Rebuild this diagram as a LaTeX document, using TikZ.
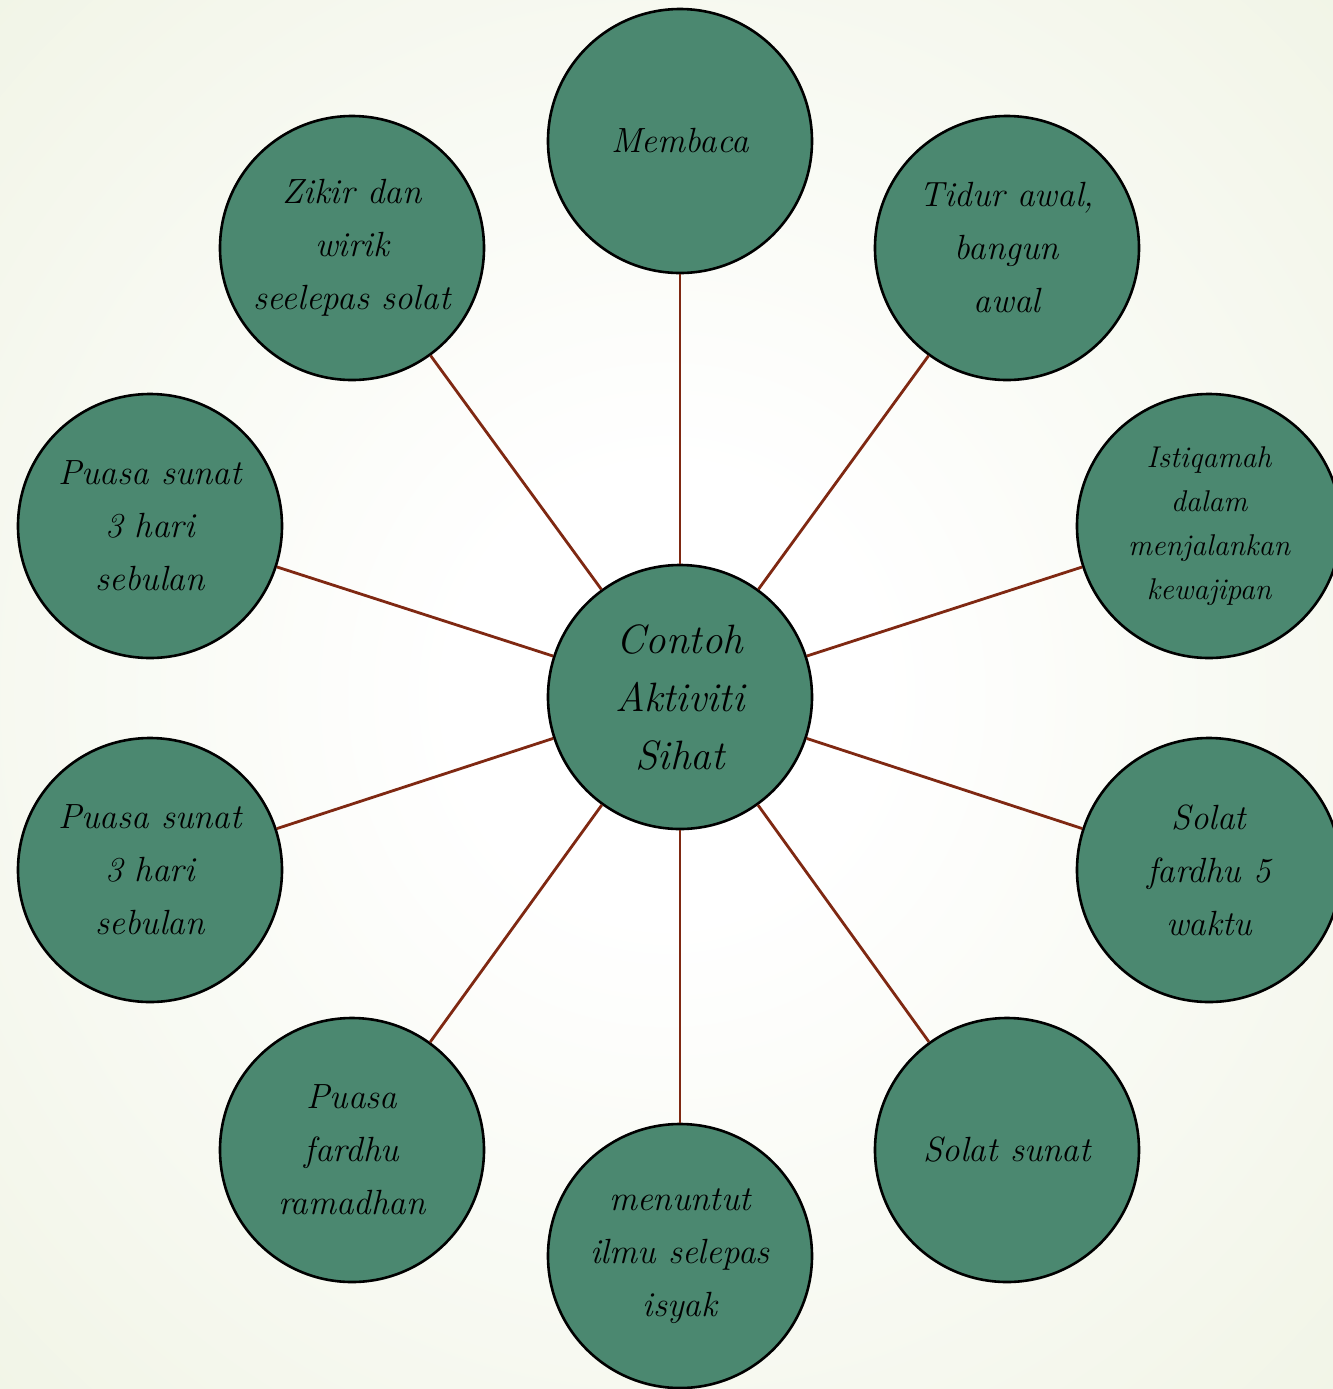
\documentclass[tikz,border=0pt]{standalone}
\usetikzlibrary{positioning}
\definecolor{bgout}{HTML}{E6ECD3}
\definecolor{circfill}{HTML}{4B8870}
\definecolor{linkcol}{HTML}{7F2812}
\pgfdeclareradialshading{bgshade}{\pgfpoint{0bp}{0bp}}{color(0bp)=(white); color(8bp)=(white); color(58bp)=(bgout); color(72bp)=(bgout)}
\tikzset{
  bubble/.style={circle, draw=black, line width=1.3pt, fill=circfill, minimum size=132pt, inner sep=0pt, align=center, font=\fontsize{17.5}{26.5}\selectfont\itshape},
  hub/.style={bubble, font=\fontsize{20.5}{29}\selectfont\itshape},
  smalltext/.style={font=\fontsize{15}{22}\selectfont\itshape},
  link/.style={draw=linkcol, line width=1.4pt}
}
\begin{document}
\begin{tikzpicture}[x=0.5pt,y=-0.5pt]
\useasboundingbox (0,0) rectangle (1333,1389);
\shade[shading=bgshade] (0,0) rectangle (1333,1389);
\node[hub] (c) at (680,697) {Contoh\\Aktiviti\\Sihat};
\node[bubble] (n1) at (680,141) {Membaca};
\node[bubble] (n2) at (1007,248) {Tidur awal,\\bangun\\awal};
\node[bubble,smalltext] (n3) at (1209,526) {Istiqamah\\dalam\\menjalankan\\kewajipan};
\node[bubble] (n4) at (1209,870) {Solat\\fardhu 5\\waktu};
\node[bubble] (n5) at (1007,1150) {Solat sunat};
\node[bubble] (n6) at (680,1256) {menuntut\\ilmu selepas\\isyak};
\node[bubble] (n7) at (352,1150) {Puasa\\fardhu\\ramadhan};
\node[bubble] (n8) at (150,870) {Puasa sunat\\3 hari\\sebulan};
\node[bubble] (n9) at (150,526) {Puasa sunat\\3 hari\\sebulan};
\node[bubble] (n10) at (352,248) {Zikir dan\\wirik\\seelepas solat};
\foreach \n in {n1,n2,n3,n4,n5,n6,n7,n8,n9,n10} \draw[link] (c) -- (\n);
\end{tikzpicture}
\end{document}
